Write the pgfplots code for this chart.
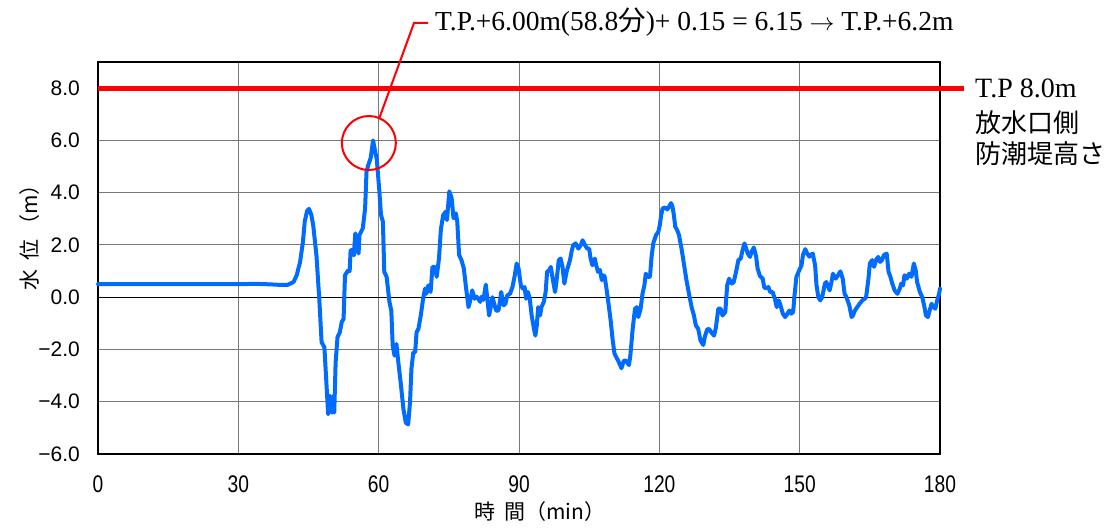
\documentclass[border=0pt]{standalone}
\usepackage{fontspec}
\usepackage{pgfplots}
\pgfplotsset{compat=1.18}
\usetikzlibrary{calc}
\setmainfont{Liberation Sans}
\newfontfamily\seriff{Liberation Serif}
\newfontfamily\jp{Noto Sans CJK JP}
\definecolor{wblue}{RGB}{0,108,255}
\definecolor{gridgray}{RGB}{120,120,120}
\begin{document}
\begin{tikzpicture}
\begin{axis}[name=ax, at={(0,0)}, anchor=south west,
  width=842pt, height=392pt, scale only axis,
  xmin=0, xmax=180, ymin=-6, ymax=9,
  xtick={0,30,60,90,120,150,180}, ytick={-6,-4,-2,0,2,4,6,8},
  yticklabels={−6.0,−4.0,−2.0,0.0,2.0,4.0,6.0,8.0},
  /pgf/number format/assume math mode=true,
  major tick length=0pt,
  grid=major, major grid style={gridgray, line width=1pt},
  axis line style={black, line width=2.5pt},
  clip=false,
  yticklabel style={font=\fontsize{21}{24}\selectfont, anchor=east, inner sep=0pt, xshift=-18pt},
  xticklabel style={font=\fontsize{24}{26}\selectfont, anchor=north, inner sep=0pt, yshift=-22pt, xscale=0.8, transform shape},
]
\addplot[black, line width=1.3pt, forget plot] coordinates {(0,0) (180,0)};
\addplot[red, line width=5pt, forget plot] coordinates {(0,8) (185.1,8)};
\addplot[wblue, line width=4pt, line join=round, line cap=round] coordinates {
(0,0.50) (10,0.50) (20,0.50) (30,0.50) (34,0.51) (37,0.49) (39,0.47) (40.5,0.47) (41.8,0.58) (42.5,0.85) (43.2,1.35) (43.8,2.1) (44.2,2.9) (44.7,3.3) (45.1,3.38) (45.6,3.15) (46.0,2.76) (46.7,1.6) (47.3,-0.06) (47.8,-1.72) (48.4,-1.92) (48.9,-3.52) (49.2,-4.48) (49.6,-3.78) (50.0,-4.42) (50.3,-3.78) (50.5,-4.42) (50.8,-2.49) (51.2,-1.53) (51.7,-1.34) (52.1,-0.95) (52.5,-0.83) (52.8,0.84) (53.5,1.03) (53.8,1.0) (54.0,1.8) (54.4,1.8) (54.7,1.6) (55.0,2.44) (55.3,2.12) (55.7,1.67) (55.9,2.38) (56.6,2.63) (57.1,3.4) (57.4,4.8) (57.8,5.07) (58.3,5.33) (58.8,6.0) (59.6,5.26) (60.1,4.17) (60.5,3.15) (60.9,2.89) (61.2,0.97) (61.7,0.78) (62.3,-0.18) (62.7,-0.51) (63.0,-1.85) (63.4,-2.24) (63.8,-1.79) (64.2,-2.49) (64.7,-3.26) (65.3,-4.29) (65.8,-4.8) (66.3,-4.87) (66.7,-4.03) (67.0,-2.75) (67.4,-2.11) (67.8,-2.11) (68.1,-1.34) (68.5,-1.21) (69.0,-0.7) (69.5,-0.06) (69.9,0.33) (70.2,0.13) (70.6,0.45) (71.1,0.2) (71.5,1.16) (72.0,1.16) (72.4,0.78) (72.9,1.5) (73.3,2.6) (73.8,3.15) (74.4,3.28) (74.6,2.95) (75.1,4.05) (75.6,3.79) (76.0,3.02) (76.5,3.21) (76.8,2.89) (77.2,1.61) (77.7,1.42) (78.2,1.1) (78.7,0.33) (79.2,-0.38) (79.5,-0.18) (80.0,0.26) (80.5,-0.06) (80.9,0.02) (81.3,-0.06) (81.7,-0.18) (82.0,0.02) (82.4,-0.1) (82.9,0.48) (83.3,-0.18) (83.6,-0.7) (83.9,-0.44) (84.3,0.0) (84.6,-0.18) (85.1,-0.51) (85.6,-0.51) (85.9,-0.18) (86.2,0.2) (86.7,-0.31) (87.1,-0.25) (87.5,0.07) (88.1,0.14) (88.6,0.39) (89.1,0.84) (89.5,1.29) (89.9,1.1) (90.4,0.45) (90.8,0.33) (91.2,0.39) (91.5,-0.06) (91.9,0.2) (92.3,-0.06) (92.7,-0.7) (93.2,-1.21) (93.5,-1.47) (93.8,-1.08) (94.1,-0.38) (94.5,-0.7) (94.8,-0.38) (95.3,-0.18) (95.7,0.2) (96.0,0.97) (96.5,1.04) (96.8,1.16) (97.2,0.71) (97.7,0.2) (98.0,0.58) (98.5,1.42) (98.9,1.48) (99.3,1.16) (99.7,0.52) (100.2,1.0) (100.9,1.42) (101.3,1.8) (101.6,1.99) (102.1,2.06) (102.7,1.86) (103.2,1.99) (103.6,2.18) (104.1,1.99) (104.6,1.86) (105.0,1.86) (105.3,1.48) (105.7,1.22) (106.2,1.48) (106.5,1.22) (106.9,0.97) (107.3,1.04) (107.7,0.65) (108.0,0.84) (108.3,0.8) (108.7,0.33) (109.1,-0.2) (109.6,-0.9) (110.0,-1.6) (110.4,-2.15) (110.8,-2.3) (111.2,-2.43) (111.9,-2.72) (112.4,-2.43) (112.9,-2.43) (113.5,-2.6) (113.8,-2.24) (114.3,-1.21) (114.8,-0.44) (115.2,-0.38) (115.5,-0.76) (116.0,-0.44) (116.4,0.13) (116.8,0.45) (117.1,0.9) (117.6,0.78) (118.0,0.78) (118.3,1.48) (118.7,2.06) (119.3,2.38) (119.8,2.51) (120.1,2.76) (120.4,3.15) (120.7,3.4) (121.2,3.43) (121.7,3.36) (122.1,3.47) (122.5,3.6) (122.8,3.47) (123.1,3.15) (123.4,2.7) (123.8,2.57) (124.2,2.38) (124.8,1.8) (125.3,1.22) (125.8,0.65) (126.4,0.07) (126.9,-0.38) (127.4,-0.7) (127.8,-1.08) (128.3,-1.21) (128.8,-1.66) (129.4,-1.83) (129.7,-1.53) (130.2,-1.24) (130.6,-1.21) (131.2,-1.37) (131.7,-1.47) (132.1,-1.15) (132.6,-0.44) (133.1,-0.44) (133.5,-0.7) (134.1,-0.57) (134.5,0.45) (134.9,0.71) (135.5,0.52) (135.9,0.58) (136.4,0.97) (136.9,1.42) (137.4,1.48) (137.7,1.74) (138.2,2.06) (138.5,1.9) (138.9,1.67) (139.4,1.54) (139.7,1.74) (140.2,1.9) (140.7,1.54) (141.0,1.1) (141.5,0.81) (142.1,0.71) (142.4,0.39) (142.8,0.33) (143.3,0.39) (143.7,0.2) (144.2,0.2) (144.7,-0.06) (145.1,-0.38) (145.5,-0.12) (145.8,-0.25) (146.4,-0.63) (146.9,-0.76) (147.4,-0.63) (147.8,-0.51) (148.2,-0.63) (148.6,-0.57) (148.9,0.07) (149.3,0.78) (149.9,1.03) (150.4,1.22) (150.7,1.61) (151.2,1.84) (151.6,1.67) (152.1,1.55) (152.5,1.64) (152.8,1.67) (153.3,1.22) (153.6,0.45) (154.0,0.0) (154.4,-0.12) (154.8,0.0) (155.4,0.52) (155.7,0.58) (156.1,0.39) (156.4,0.26) (156.8,0.58) (157.1,0.9) (157.7,0.71) (158.2,0.84) (158.7,0.99) (159.2,0.71) (159.6,0.13) (160.0,0.0) (160.6,-0.31) (161.1,-0.76) (161.4,-0.7) (161.8,-0.51) (162.3,-0.38) (162.8,-0.25) (163.4,-0.12) (163.9,-0.06) (164.2,0.0) (164.7,0.71) (165.0,1.29) (165.5,1.42) (165.9,1.16) (166.4,1.45) (166.8,1.54) (167.2,1.35) (167.6,1.42) (168.0,1.61) (168.6,1.67) (169.0,0.97) (169.4,0.78) (169.8,0.52) (170.3,0.26) (170.9,0.13) (171.4,0.33) (171.7,0.52) (172.1,0.45) (172.4,0.84) (172.9,0.71) (173.4,0.9) (173.9,0.78) (174.4,1.29) (174.8,1.03) (175.1,0.58) (175.7,0.2) (176.2,0.0) (176.6,-0.31) (177.0,-0.7) (177.4,-0.76) (177.9,-0.44) (178.2,-0.25) (178.6,-0.38) (179.0,-0.44) (179.4,-0.12) (179.8,0.13) (180,0.33)
};
\draw[red, line width=2pt] (axis cs:57.9,5.9) circle[radius=27pt];
\end{axis}
\draw[red, line width=2pt] ($(ax.north west)+(281pt,-57pt)$) -- ($(ax.north west)+(316pt,39pt)$) -- ($(ax.north west)+(330pt,39pt)$);
\node[anchor=base west, inner sep=0pt, font=\seriff\fontsize{27.5}{30}\selectfont] at ($(ax.north west)+(337pt,31pt)$) {T.P.+6.00m(58.8{\jp 分})+ 0.15 = 6.15 $\rightarrow$ T.P.+6.2m};
\node[anchor=base west, inner sep=0pt, font=\seriff\fontsize{28}{30}\selectfont] at ($(ax.north east)+(35pt,-36pt)$) {T.P 8.0m};
\node[anchor=base west, inner sep=0pt, font=\jp\fontsize{26}{30}\selectfont] at ($(ax.north east)+(35pt,-71pt)$) {放水口側};
\node[anchor=base west, inner sep=0pt, font=\jp\fontsize{26}{30}\selectfont] at ($(ax.north east)+(35pt,-102pt)$) {防潮堤高さ};
\node[rotate=90, inner sep=0pt, font=\jp\fontsize{21}{24}\selectfont] at ($(ax.south west)+(-68pt,222pt)$) {水\hspace{0.4em}位\hspace{0.2em}（m）};
\node[inner sep=0pt, font=\jp\fontsize{21}{24}\selectfont] at ($(ax.south west)+(442pt,-58pt)$) {時\hspace{0.4em}間（min）};
\pgfresetboundingbox
\path[use as bounding box] ($(ax.south west)+(-98pt,-75pt)$) rectangle ($(ax.north east)+(177pt,62pt)$);
\end{tikzpicture}
\end{document}
